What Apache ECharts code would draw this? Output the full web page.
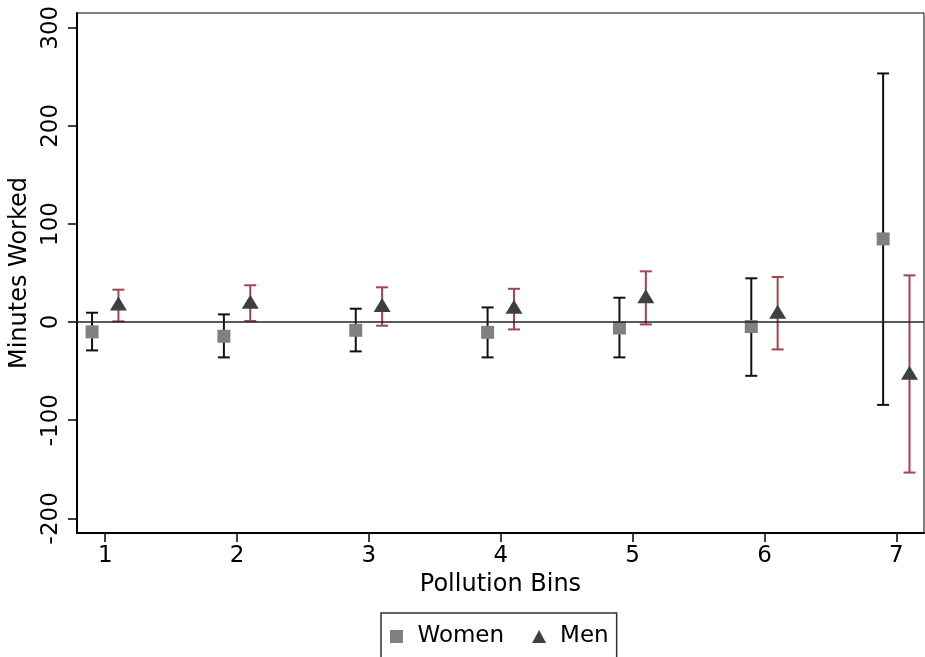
<!DOCTYPE html>
<html>
<head>
<meta charset="utf-8">
<script src="https://cdn.jsdelivr.net/npm/echarts@6/dist/echarts.min.js"></script>
<style>html,body{margin:0;padding:0;background:#fff;}#c{width:925px;height:657px;}</style>
</head>
<body>
<div id="c"></div>
<script>
var bins = [1, 2, 3, 4, 5, 6, 7];
var xTicks = [1, 2, 3, 4, 5, 6, 7];
var yTicks = [-200, -100, 0, 100, 200, 300];
var womenEst = [-10, -14.5, -8.4, -10.5, -6.1, -4.6, 84.7];
var womenLow = [-28.9, -36, -29.9, -36, -36, -54.8, -84.4];
var womenHigh = [9.5, 7.8, 13.6, 14.9, 24.8, 44.6, 253.4];
var menEst = [19, 20.7, 17.3, 15.6, 26.4, 10.5, -51.7];
var menLow = [0.7, 1, -3.7, -7.5, -2.4, -27.9, -153.4];
var menHigh = [33, 37.5, 35.4, 33.9, 51.7, 45.9, 47.6];

var OFF = 0.1;
function pts(est, sign) { return bins.map(function (b, i) { return [b + sign * OFF, est[i]]; }); }
function bars(lo, hi, sign) { return bins.map(function (b, i) { return [b + sign * OFF, lo[i], hi[i]]; }); }

function errItem(color) {
  return function (params, api) {
    var x = api.value(0);
    var p1 = api.coord([x, api.value(1)]);
    var p2 = api.coord([x, api.value(2)]);
    var hw = 6;
    var st = { stroke: color, lineWidth: 2 };
    return {
      type: 'group',
      children: [
        { type: 'line', shape: { x1: p1[0], y1: p1[1], x2: p2[0], y2: p2[1] }, style: st },
        { type: 'line', shape: { x1: p1[0] - hw, y1: p1[1], x2: p1[0] + hw, y2: p1[1] }, style: st },
        { type: 'line', shape: { x1: p2[0] - hw, y1: p2[1], x2: p2[0] + hw, y2: p2[1] }, style: st }
      ]
    };
  };
}

var FONT = 'DejaVu Sans';
var chart = echarts.init(document.getElementById('c'));
chart.setOption({
  animation: false,
  backgroundColor: '#fff',
  textStyle: { fontFamily: FONT },
  grid: { left: 75, right: 1, top: 13, bottom: 124, show: true, borderColor: '#000', borderWidth: 1 },
  xAxis: {
    type: 'value', min: 0.785, max: 7.21,
    name: 'Pollution Bins', nameLocation: 'middle', nameGap: 37,
    nameTextStyle: { fontSize: 24, color: '#000', fontFamily: FONT },
    axisLine: { show: true, onZero: false, lineStyle: { color: '#000', width: 2 } },
    axisTick: { show: true, length: 9, lineStyle: { color: '#000', width: 1.5 }, customValues: xTicks },
    axisLabel: { fontSize: 23, color: '#000', margin: 12, fontFamily: FONT, customValues: xTicks },
    splitLine: { show: false }
  },
  yAxis: {
    type: 'value', min: -215, max: 315,
    name: 'Minutes Worked', nameLocation: 'middle', nameGap: 42,
    nameTextStyle: { fontSize: 24, color: '#000', fontFamily: FONT },
    axisLine: { show: true, onZero: false, lineStyle: { color: '#000', width: 2 } },
    axisTick: { show: true, length: 9, lineStyle: { color: '#000', width: 1.5 }, customValues: yTicks },
    axisLabel: { fontSize: 23, color: '#000', margin: 14, rotate: 90, fontFamily: FONT, customValues: yTicks },
    splitLine: { show: false }
  },
  legend: {
    left: 381, top: 613,
    padding: [12, 8, 14, 9],
    itemGap: 28, itemWidth: 14, itemHeight: 13,
    borderColor: '#333', borderWidth: 1.5,
    textStyle: { fontSize: 23, color: '#000', fontFamily: FONT, padding: [0, 0, 0, 9] },
    data: [
      { name: 'Women', icon: 'path://M0,0h10v10h-10z' },
      { name: 'Men', icon: 'triangle' }
    ]
  },
  series: [
    {
      type: 'custom', name: 'WomenCI', renderItem: errItem('#111'), data: bars(womenLow, womenHigh, -1),
      encode: { x: 0, y: [1, 2] }, z: 2,
      markLine: { silent: true, symbol: 'none', label: { show: false },
        lineStyle: { color: '#222', width: 1.6, type: 'solid' }, data: [{ yAxis: 0 }] }
    },
    {
      type: 'scatter', name: 'Women', symbol: 'rect', symbolSize: 13,
      itemStyle: { color: '#808080', opacity: 1 }, data: pts(womenEst, -1), z: 3
    },
    {
      type: 'custom', name: 'MenCI', renderItem: errItem('#a3444e'), data: bars(menLow, menHigh, 1),
      encode: { x: 0, y: [1, 2] }, z: 4
    },
    {
      type: 'scatter', name: 'Men', symbol: 'triangle', symbolSize: [17, 14],
      itemStyle: { color: '#3f3f3f', opacity: 1 }, data: pts(menEst, 1), z: 5
    }
  ]
});
</script>
</body>
</html>
